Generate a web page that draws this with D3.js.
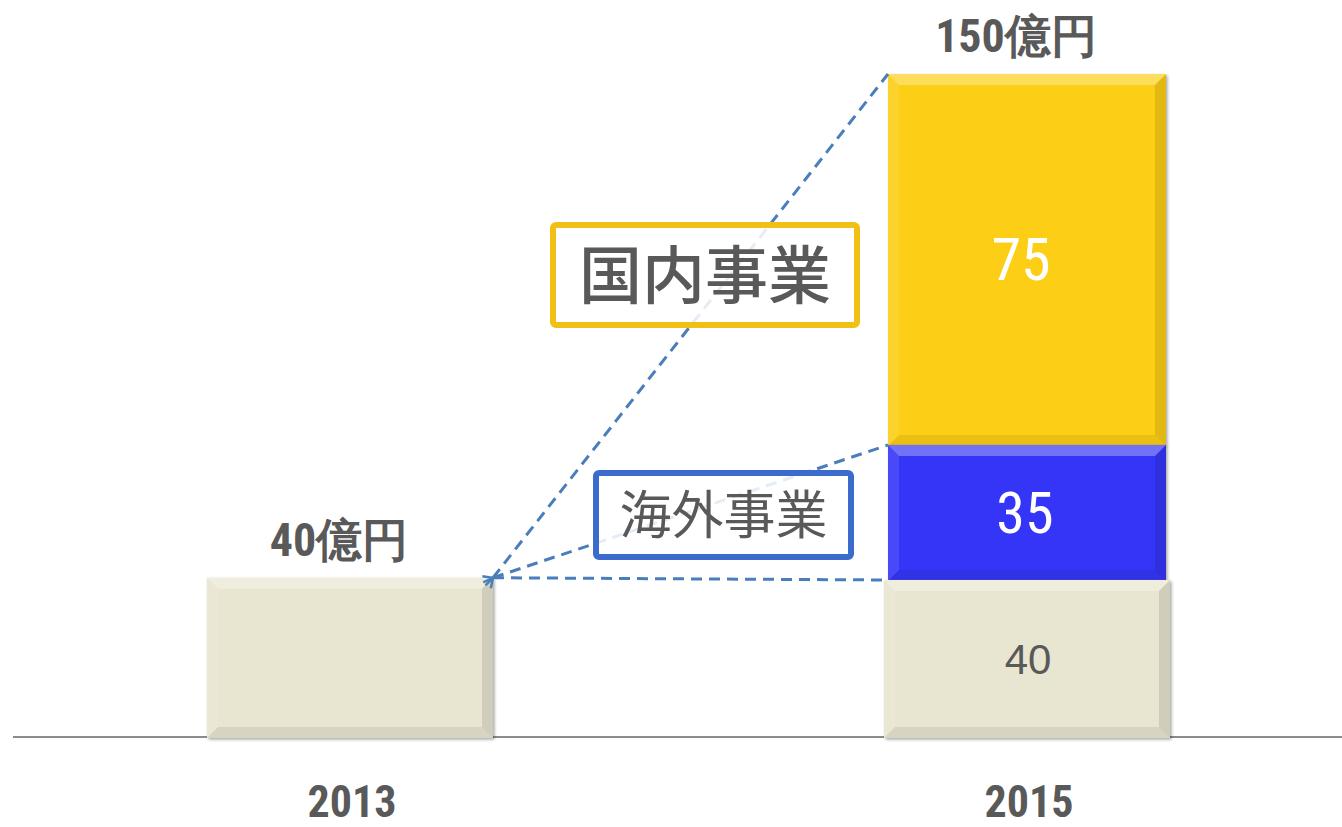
<!DOCTYPE html>
<html>
<head>
<meta charset="utf-8">
<script src="https://cdn.jsdelivr.net/npm/d3@7"></script>
<style>
  html, body { margin: 0; padding: 0; background: #fff; }
  svg { display: block; }
  .num { font-family: "Liberation Sans Narrow", "Arial Narrow", "Roboto Condensed", "Liberation Sans", sans-serif; }
  .wide { font-family: "Liberation Sans", Arial, sans-serif; }
  .jp { font-family: "Noto Sans CJK JP", "Noto Sans", sans-serif; }
</style>
</head>
<body>
<div id="chart"></div>
<script>
// data
const years = ['2013', '2015'];
const totalLabels = ['40億円', '150億円'];
const segmentNames = ['既存事業', '海外事業', '国内事業'];
const segmentLabels = [40, 35, 75];
// the segments are not drawn to scale in the original, these are the visual heights
const segmentHeights = [35.7, 30.5, 83.8];
const bar2013Height = 36.2;
const segmentColors = ['#e8e5d0', '#3535f7', '#fccf14'];
const segmentTextColors = ['#595959', '#ffffff', '#ffffff'];

const width = 1342, height = 827;
const baseY = 738;

const svg = d3.select('#chart').append('svg')
    .attr('width', width)
    .attr('height', height);

const defs = svg.append('defs');
const shadow = defs.append('filter').attr('id', 'shadow')
    .attr('x', '-10%').attr('y', '-10%').attr('width', '120%').attr('height', '120%');
shadow.append('feDropShadow')
    .attr('dx', 1.5).attr('dy', 1.5).attr('stdDeviation', 1.5)
    .attr('flood-color', '#000').attr('flood-opacity', 0.35);

defs.append('marker')
    .attr('id', 'arrow')
    .attr('viewBox', '0 0 10 10')
    .attr('refX', 1).attr('refY', 5)
    .attr('markerWidth', 4).attr('markerHeight', 4)
    .attr('orient', 'auto-start-reverse')
    .append('path')
    .attr('d', 'M9,1 L1,5 L9,9')
    .attr('fill', 'none')
    .attr('stroke', '#4a7ebb')
    .attr('stroke-width', 2);

const x = d3.scalePoint().domain(years).range([350, 1027]);
const y = d3.scaleLinear().domain([0, 150]).range([baseY, 74]);
const barW = 286;

// axis line
svg.append('line')
    .attr('x1', 13).attr('x2', width)
    .attr('y1', baseY - 1).attr('y2', baseY - 1)
    .attr('stroke', '#8c8c8c').attr('stroke-width', 2);

function bevelBar(g, bx, by, bw, bh, color) {
    const b = Math.min(11, bh / 4);
    g.append('rect')
        .attr('x', bx).attr('y', by).attr('width', bw).attr('height', bh)
        .attr('fill', color)
        .attr('filter', 'url(#shadow)');
    const faces = [
        { pts: [[bx, by], [bx + bw, by], [bx + bw - b, by + b], [bx + b, by + b]], fill: '#fff', op: 0.3 },
        { pts: [[bx, by + bh], [bx + bw, by + bh], [bx + bw - b, by + bh - b], [bx + b, by + bh - b]], fill: '#000', op: 0.07 },
        { pts: [[bx, by], [bx + b, by + b], [bx + b, by + bh - b], [bx, by + bh]], fill: '#fff', op: 0.1 },
        { pts: [[bx + bw, by], [bx + bw - b, by + b], [bx + bw - b, by + bh - b], [bx + bw, by + bh]], fill: '#000', op: 0.1 }
    ];
    g.selectAll(null).data(faces).enter().append('polygon')
        .attr('points', d => d.pts.map(p => p.join(',')).join(' '))
        .attr('fill', d => d.fill)
        .attr('fill-opacity', d => d.op);
}

// 2013 bar
const g13 = svg.append('g');
bevelBar(g13, x('2013') - barW / 2, y(bar2013Height), barW, baseY - y(bar2013Height), segmentColors[0]);

// 2015 stacked bar
const stacked = [];
let acc = 0;
segmentHeights.forEach((h, i) => {
    stacked.push({ name: segmentNames[i], y0: acc, y1: acc + h, label: segmentLabels[i], color: segmentColors[i], textColor: segmentTextColors[i] });
    acc += h;
});

const g15 = svg.append('g');
// draw from top to bottom so the base sits in front
stacked.slice().reverse().forEach(s => {
    const inset = s.y0 === 0 ? 0 : 4;
    const top = y(s.y1);
    const bottom = s.y0 === 0 ? y(s.y0) : y(s.y0) + 1;
    bevelBar(g15, x('2015') - barW / 2 + inset, top, barW - inset * 2, bottom - top, s.color);
});

g15.selectAll('text.seg').data(stacked).enter().append('text')
    .attr('class', (d, i) => i === 0 ? 'wide seg' : 'num seg')
    .attr('x', (d, i) => x('2015') + [1, -2, -6][i])
    .attr('y', d => (y(d.y0) + y(d.y1)) / 2)
    .attr('dy', '0.35em')
    .attr('text-anchor', 'middle')
    .attr('fill', d => d.textColor)
    .attr('font-size', (d, i) => [42, 58, 60][i])
    .text(d => d.label);

// totals above bars
const totalTops = [bar2013Height, acc];
svg.selectAll('text.total').data(years).enter().append('text')
    .attr('class', 'num total')
    .attr('x', (d, i) => x(d) + [-11, -11][i])
    .attr('y', (d, i) => y(totalTops[i]) - 22)
    .attr('text-anchor', 'middle')
    .attr('fill', '#595959')
    .attr('font-size', 46)
    .attr('font-weight', 'bold')
    .text((d, i) => totalLabels[i]);

// year labels
svg.selectAll('text.year').data(years).enter().append('text')
    .attr('class', 'num year')
    .attr('x', d => x(d) + 2)
    .attr('y', 817)
    .attr('text-anchor', 'middle')
    .attr('fill', '#595959')
    .attr('font-size', 44)
    .attr('font-weight', 'bold')
    .text(d => d);

// dashed connectors from the 2013 bar corner to the 2015 segment tops
const origin = [x('2013') + barW / 2, y(bar2013Height)];
const targets = stacked.map(s => [x('2015') - barW / 2 + (s.y0 === 0 ? 0 : 4), y(s.y1)]);
svg.selectAll('line.conn').data(targets).enter().append('line')
    .attr('class', 'conn')
    .attr('x1', origin[0]).attr('y1', origin[1])
    .attr('x2', d => d[0]).attr('y2', d => d[1])
    .attr('stroke', '#4a7ebb')
    .attr('stroke-width', 3)
    .attr('stroke-dasharray', '11,7')
    .attr('marker-start', (d, i) => i === 0 ? null : 'url(#arrow)');

// callout boxes
const callouts = [
    { text: segmentNames[2], x: 553, y: 225, w: 304, h: 100, stroke: '#f0c014', size: 63, weight: 500 },
    { text: segmentNames[1], x: 596, y: 473, w: 255, h: 84, stroke: '#3b6bcc', size: 52, weight: 'normal' }
];
const cg = svg.selectAll('g.callout').data(callouts).enter().append('g').attr('class', 'callout');
cg.append('rect')
    .attr('x', d => d.x).attr('y', d => d.y)
    .attr('width', d => d.w).attr('height', d => d.h)
    .attr('rx', 3)
    .attr('fill', '#fff').attr('fill-opacity', 0.85)
    .attr('stroke', d => d.stroke)
    .attr('stroke-width', 6);
cg.append('text')
    .attr('class', 'jp')
    .attr('x', d => d.x + d.w / 2)
    .attr('y', d => d.y + d.h / 2)
    .attr('dy', '0.36em')
    .attr('text-anchor', 'middle')
    .attr('fill', '#595959')
    .attr('font-size', d => d.size)
    .attr('font-weight', d => d.weight)
    .text(d => d.text);
</script>
</body>
</html>
